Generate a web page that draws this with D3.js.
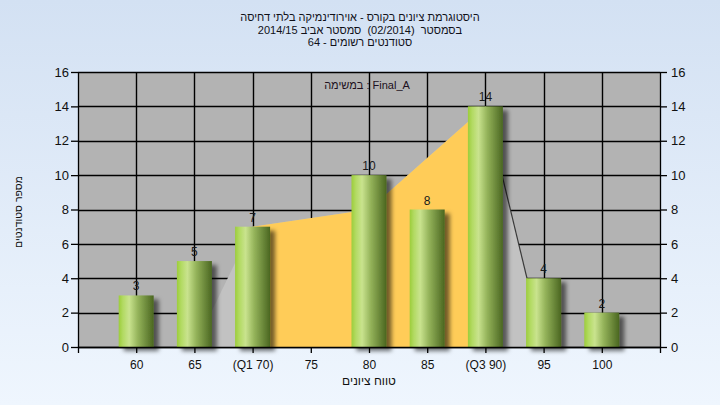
<!DOCTYPE html>
<html><head><meta charset="utf-8">
<script src="https://cdn.jsdelivr.net/npm/d3@7"></script>
<style>
html,body{margin:0;padding:0;}
svg{display:block;font-family:"Liberation Sans",Arial,"DejaVu Sans",sans-serif;}
</style></head>
<body>
<svg id="chart" width="720" height="405"></svg>
<script>
// ---- data ----
const categories = ["60","65","(Q1 70)","75","80","85","(Q3 90)","95","100"];
const counts = [3,5,7,0,10,8,14,4,2];
const yTicks = [0,2,4,6,8,10,12,14,16];
const whiskerCats = ["65","(Q1 70)","80","(Q3 90)","95"];
const whiskerVals = [0,7,8,14,0];
const boxCats = ["(Q1 70)","80","(Q3 90)"];
const boxVals = [7,8,14];
const titleLines = ["היסטוגרמת ציונים בקורס - אוירודינמיקה בלתי דחיסה","בסמסטר  (02/2014)  סמסטר אביב 2014/15","סטודנטים רשומים - 64"];
const legendText = "במשימה : Final_A";
const xTitle = "טווח ציונים";
const yTitle = "מספר סטודנטים";

const svg = d3.select("#chart");
const W = 720, H = 405;
const L = 78, R = 660, T = 72, B = 347;

const defs = svg.append("defs");
const bg = defs.append("linearGradient").attr("id","bg").attr("x1",0).attr("y1",0).attr("x2",0).attr("y2",1);
bg.append("stop").attr("offset","0%").attr("stop-color","#d3e1f3");
bg.append("stop").attr("offset","100%").attr("stop-color","#eff6fe");
const bar = defs.append("linearGradient").attr("id","bar").attr("x1",0).attr("y1",0).attr("x2",1).attr("y2",0);
[["0%","#9ccd3b"],["12%","#b2da62"],["30%","#c9e38e"],["55%","#94b35a"],["100%","#4a6620"]].forEach(s=>bar.append("stop").attr("offset",s[0]).attr("stop-color",s[1]));
const f = defs.append("filter").attr("id","sh").attr("x","-20%").attr("y","-20%").attr("width","160%").attr("height","160%");
f.append("feDropShadow").attr("dx",5).attr("dy",4).attr("stdDeviation",2).attr("flood-color","#000").attr("flood-opacity",0.55);

svg.append("rect").attr("width",W).attr("height",H).attr("fill","url(#bg)");

const x = d3.scalePoint().domain(categories).range([L,R]).padding(1);
const y = d3.scaleLinear().domain([0,16]).range([B,T]);

// plot background
svg.append("rect").attr("x",L).attr("y",T).attr("width",R-L).attr("height",B-T).attr("fill","#b3b3b3");

// gridlines
const g = svg.append("g").attr("stroke","#000").attr("stroke-width",1.4);
g.selectAll("line.h").data(yTicks).join("line")
  .attr("x1",L).attr("x2",R).attr("y1",d=>Math.round(y(d))+0.5).attr("y2",d=>Math.round(y(d))+0.5);
g.selectAll("line.v").data(categories).join("line")
  .attr("y1",T).attr("y2",B).attr("x1",d=>Math.round(x(d))+0.5).attr("x2",d=>Math.round(x(d))+0.5);

// whisker & box areas
const wData = whiskerCats.map((c,i)=>({c,v:whiskerVals[i]}));
const bData = boxCats.map((c,i)=>({c,v:boxVals[i]}));
const area = d3.area().x(d=>x(d.c)).y0(y(0)).y1(d=>y(d.v));
svg.append("path").datum(wData).attr("d",area).attr("fill","#c2c2c2");
svg.append("path").datum(bData).attr("d",area).attr("fill","#ffcc58");
svg.append("line")
  .attr("x1",x(whiskerCats[3])).attr("y1",y(whiskerVals[3]))
  .attr("x2",x(whiskerCats[4])).attr("y2",y(whiskerVals[4]))
  .attr("stroke","#3a3a3a").attr("stroke-width",1.2);

// bars
const bw = 35;
const data = categories.map((c,i)=>({c,v:counts[i]})).filter(d=>d.v>0);
svg.append("g").selectAll("rect").data(data).join("rect")
  .attr("x",d=>x(d.c)-bw/2).attr("width",bw)
  .attr("y",d=>y(d.v)).attr("height",d=>y(0)-y(d.v))
  .attr("fill","url(#bar)").attr("filter","url(#sh)");

// value labels
svg.append("g").selectAll("text").data(data).join("text")
  .attr("x",d=>x(d.c)).attr("y",d=>y(d.v)-5)
  .attr("text-anchor","middle").attr("font-size",12).attr("fill","#1a1a1a")
  .text(d=>d.v);

// axes
const axL = svg.append("g").attr("transform",`translate(${L},0)`)
  .call(d3.axisLeft(y).tickValues(yTicks).tickSize(7).tickSizeOuter(0).tickPadding(2));
const axR = svg.append("g").attr("transform",`translate(${R},0)`)
  .call(d3.axisRight(y).tickValues(yTicks).tickSize(7).tickSizeOuter(0).tickPadding(4));
const axB = svg.append("g").attr("transform",`translate(0,${B})`)
  .call(d3.axisBottom(x).tickSize(6).tickSizeOuter(6).tickPadding(5));
[axL,axR].forEach(a=>a.selectAll("text").attr("font-size",13).attr("fill","#111"));
axB.selectAll("text").attr("font-size",12).attr("fill","#111").attr("dy","0.9em");
[axL,axR,axB].forEach(a=>{a.selectAll("line").attr("stroke","#000").attr("stroke-width",1.3);a.select(".domain").attr("stroke","#000").attr("stroke-width",1.3);a.attr("font-family",null);});

// titles
svg.append("g").selectAll("text").data(titleLines).join("text")
  .attr("x",360).attr("y",(d,i)=>21+i*12.5)
  .attr("text-anchor","middle").attr("direction","rtl")
  .style("unicode-bidi","embed").style("white-space","pre")
  .attr("font-size",11).attr("fill","#101018").text(d=>d);

svg.append("text").attr("x",367).attr("y",89).attr("text-anchor","middle")
  .attr("font-size",11).attr("fill","#201020").text(legendText);

svg.append("text").attr("x",369).attr("y",385).attr("text-anchor","middle")
  .attr("font-size",12).attr("fill","#111").text(xTitle);

svg.append("text").attr("transform","translate(22,212) rotate(-90)").attr("text-anchor","middle")
  .attr("font-size",10.5).attr("fill","#111").text(yTitle);
</script>
</body></html>
